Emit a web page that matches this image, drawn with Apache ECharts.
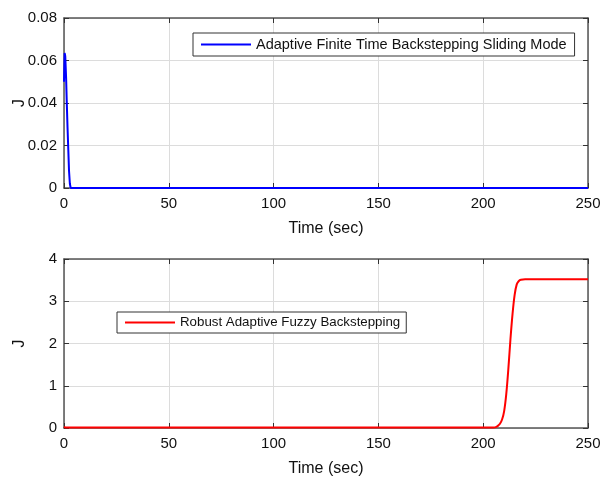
<!DOCTYPE html>
<html>
<head>
<meta charset="utf-8">
<script src="https://cdn.jsdelivr.net/npm/echarts@6/dist/echarts.min.js"></script>
<style>
  html, body { margin: 0; padding: 0; background: #fff; }
  #chart { width: 603px; height: 478px; }
</style>
</head>
<body>
<div id="chart"></div>
<script>
// Cost J over time for the two controllers
const seriesNames = [
  'Adaptive Finite Time Backstepping Sliding Mode',
  'Robust Adaptive Fuzzy Backstepping'
];

// Top panel: [time (s), J]
const timeA = [0, 0.3, 0.6, 1.0, 1.3, 1.7, 2.05, 2.4, 2.8, 3.2, 10, 50, 100, 150, 200, 250];
const jA    = [0.050, 0.0635, 0.062, 0.052, 0.041, 0.028, 0.018, 0.008, 0.002, 0.0, 0, 0, 0, 0, 0, 0];

// Bottom panel: [time (s), J]
const timeB = [0, 0.5, 1, 50, 100, 150, 200, 205, 206, 207, 208, 209, 210, 211, 212, 213, 214, 215, 216, 217, 218, 220, 230, 250];
const jB    = [0.03, 0.015, 0.01, 0.01, 0.01, 0.01, 0.01, 0.012, 0.02, 0.05, 0.1, 0.2, 0.4, 0.8, 1.4, 2.1, 2.7, 3.15, 3.4, 3.48, 3.51, 3.52, 3.52, 3.52];

const pairs = (xs, ys) => xs.map((x, i) => [x, ys[i]]);

const FONT = '"Liberation Sans", Arial, Helvetica, sans-serif';
const frameColor = '#555';
const gridLine = { show: true, lineStyle: { color: '#dcdcdc', width: 1 } };
const frameLine = { show: true, onZero: false, lineStyle: { color: frameColor, width: 1.5 } };
const innerTick = { show: true, inside: true, length: 5, lineStyle: { color: '#333' } };

function bottomX(gi) {
  return {
    type: 'value', gridIndex: gi, min: 0, max: 250, interval: 50,
    position: 'bottom',
    name: 'Time (sec)', nameLocation: 'middle', nameGap: 33,
    nameTextStyle: { fontFamily: FONT, fontSize: 16, color: '#111' },
    axisLine: frameLine,
    axisTick: innerTick,
    axisLabel: { fontFamily: FONT, fontSize: 15, color: '#111', margin: 8 },
    splitLine: gridLine
  };
}
function topX(gi) {
  return {
    type: 'value', gridIndex: gi, min: 0, max: 250, interval: 50,
    position: 'top',
    axisLine: frameLine,
    axisTick: innerTick,
    axisLabel: { show: false },
    splitLine: { show: false }
  };
}
function leftY(gi, max, interval, fmt, gap) {
  return {
    type: 'value', gridIndex: gi, min: 0, max: max, interval: interval,
    position: 'left',
    name: 'J', nameLocation: 'middle', nameGap: gap, nameRotate: 90,
    nameMoveOverlap: false,
    nameTextStyle: { fontFamily: FONT, fontSize: 16, color: '#111' },
    axisLine: frameLine,
    axisTick: innerTick,
    axisLabel: { fontFamily: FONT, fontSize: 15, color: '#111', margin: 7, formatter: fmt },
    splitLine: gridLine
  };
}
function rightY(gi, max, interval) {
  return {
    type: 'value', gridIndex: gi, min: 0, max: max, interval: interval,
    position: 'right',
    axisLine: frameLine,
    axisTick: innerTick,
    axisLabel: { show: false },
    splitLine: { show: false }
  };
}

const chart = echarts.init(document.getElementById('chart'), null, { renderer: 'canvas' });

const legendBase = {
  orient: 'vertical',
  backgroundColor: '#fff',
  borderColor: '#333', borderWidth: 1,
  padding: [4, 8, 4, 8],
  icon: 'rect', itemWidth: 50, itemHeight: 2, itemGap: 0,
  textStyle: { fontFamily: FONT, fontSize: 14.5, color: '#111' },
  selectedMode: false
};

chart.setOption({
  animation: false,
  backgroundColor: '#fff',
  grid: [
    { left: 64, right: 15, top: 18, height: 170, outerBoundsMode: 'none', containLabel: false },
    { left: 64, right: 15, top: 259, height: 169, outerBoundsMode: 'none', containLabel: false }
  ],
  xAxis: [bottomX(0), topX(0), bottomX(1), topX(1)],
  yAxis: [
    leftY(0, 0.08, 0.02, v => v === 0 ? '0' : v.toFixed(2), 36),
    rightY(0, 0.08, 0.02),
    leftY(1, 4, 1, v => String(v), 36),
    rightY(1, 4, 1)
  ],
  legend: [
    Object.assign({}, legendBase, { data: [seriesNames[0]], left: 193, top: 33 }),
    Object.assign({}, legendBase, {
      data: [seriesNames[1]], left: 117, top: 312, padding: [4, 6, 4, 8],
      textStyle: { fontFamily: FONT, fontSize: 13.3, color: '#111' }
    })
  ],
  series: [
    {
      name: seriesNames[0], type: 'line', xAxisIndex: 0, yAxisIndex: 0,
      data: pairs(timeA, jA), showSymbol: false, smooth: false,
      lineStyle: { color: '#0000ff', width: 2 }, itemStyle: { color: '#0000ff' }
    },
    {
      name: seriesNames[1], type: 'line', xAxisIndex: 2, yAxisIndex: 2,
      data: pairs(timeB, jB), showSymbol: false, smooth: 0.3,
      lineStyle: { color: '#ff0000', width: 2 }, itemStyle: { color: '#ff0000' }
    }
  ]
});
</script>
</body>
</html>
